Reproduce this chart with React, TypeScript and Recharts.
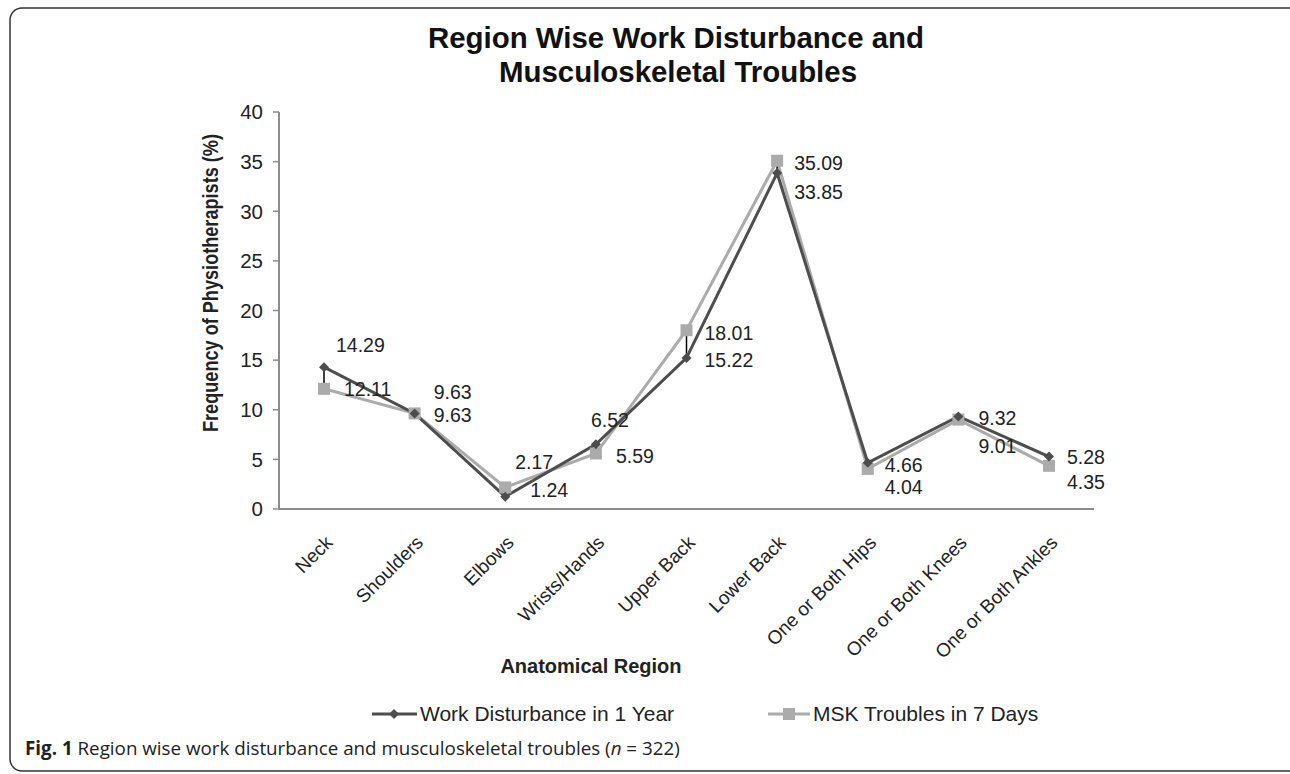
import React from 'react';
import { LineChart, Line, XAxis, YAxis, ErrorBar, LabelList } from 'recharts';

const regions = ['Neck', 'Shoulders', 'Elbows', 'Wrists/Hands', 'Upper Back', 'Lower Back', 'One or Both Hips', 'One or Both Knees', 'One or Both Ankles'];
const workDisturbance = [14.29, 9.63, 1.24, 6.52, 15.22, 33.85, 4.66, 9.32, 5.28];
const mskTroubles = [12.11, 9.63, 2.17, 5.59, 18.01, 35.09, 4.04, 9.01, 4.35];
const yTicks = [0, 5, 10, 15, 20, 25, 30, 35, 40];

// label placement offsets (dx, dy of the label's left/middle relative to the point)
const workLabelOffsets = [[12, -22], [19, -21], [25, -7], [-5, -24], [18, 2], [17, 19], [17, 2], [20, 2], [18, 1]];
const mskLabelOffsets = [[20, 0], [19, 2], [10, -25], [20, 3], [18, 3], [17, 2], [17, 18], [20, 27], [18, 16]];

const data = regions.map((r, i) => ({
  region: r,
  work: workDisturbance[i],
  msk: mskTroubles[i],
  hl: [Math.max(0, workDisturbance[i] - mskTroubles[i]), Math.max(0, mskTroubles[i] - workDisturbance[i])],
}));

const FONT = 'Arial, "Liberation Sans", sans-serif';
const WORK_COLOR = '#4d4d4d';
const MSK_COLOR = '#ababab';
const TEXT_COLOR = '#222';

const Diamond = (props: any) => {
  const { cx, cy } = props;
  if (cx == null || cy == null) return null;
  const s = 5;
  return <polygon points={`${cx},${cy - s} ${cx + s},${cy} ${cx},${cy + s} ${cx - s},${cy}`} fill={WORK_COLOR} />;
};

const Square = (props: any) => {
  const { cx, cy } = props;
  if (cx == null || cy == null) return null;
  const s = 6;
  return <rect x={cx - s} y={cy - s} width={2 * s} height={2 * s} fill={MSK_COLOR} />;
};

const makeLabel = (offsets: number[][]) => (props: any) => {
  const { x, y, value, index } = props;
  const [dx, dy] = offsets[index] || [15, 0];
  return (
    <text x={x + dx} y={y + dy} dy="0.35em" fontSize={19.5} fontFamily={FONT} fill={TEXT_COLOR} textAnchor="start">
      {Number(value).toFixed(2)}
    </text>
  );
};

const XTick = (props: any) => {
  const { x, y, payload } = props;
  return (
    <g transform={`translate(${x + 5},${y + 22}) rotate(-45)`}>
      <text x={0} y={0} dy="0.35em" textAnchor="end" fontSize={19} fontFamily={FONT} fill={TEXT_COLOR}>
        {payload.value}
      </text>
    </g>
  );
};

export default function App() {
  return (
    <div style={{ position: 'absolute', left: 0, top: 0, width: 1290, height: 774, background: '#fff', fontFamily: FONT, overflow: 'hidden' }}>
      <svg width={1290} height={774} style={{ position: 'absolute', left: 0, top: 0 }}>
        <rect x={10} y={8} width={1300} height={763} rx={12} ry={12} fill="none" stroke="#333" strokeWidth={1.5} />
        <text x={676} y={48} textAnchor="middle" fontSize={30} fontWeight="bold" fontFamily={FONT} fill="#111" textLength={496} lengthAdjust="spacingAndGlyphs">
          Region Wise Work Disturbance and
        </text>
        <text x={678} y={82} textAnchor="middle" fontSize={30} fontWeight="bold" fontFamily={FONT} fill="#111" textLength={358} lengthAdjust="spacingAndGlyphs">
          Musculoskeletal Troubles
        </text>
        <text transform="translate(218,283) rotate(-90)" textAnchor="middle" fontSize={22} fontWeight="bold" fontFamily={FONT} fill={TEXT_COLOR} textLength={298} lengthAdjust="spacingAndGlyphs">
          Frequency of Physiotherapists (%)
        </text>
        <text x={591} y={673} textAnchor="middle" fontSize={20} fontWeight="bold" fontFamily={FONT} fill={TEXT_COLOR}>
          Anatomical Region
        </text>
        {/* legend */}
        <line x1={372} y1={714} x2={417} y2={714} stroke={WORK_COLOR} strokeWidth={3} />
        <polygon points="394,709 399,714 394,719 389,714" fill={WORK_COLOR} />
        <text x={420} y={714} dy="0.35em" fontSize={21} fontFamily={FONT} fill={TEXT_COLOR}>Work Disturbance in 1 Year</text>
        <line x1={768} y1={714} x2={810} y2={714} stroke={MSK_COLOR} strokeWidth={3} />
        <rect x={783} y={708} width={12} height={12} fill={MSK_COLOR} />
        <text x={813} y={714} dy="0.35em" fontSize={21} fontFamily={FONT} fill={TEXT_COLOR}>MSK Troubles in 7 Days</text>
        {/* caption */}
        <text x={25} y={755} fontSize={18.8} fontFamily='"Open Sans", sans-serif' fill="#222">
          <tspan fontWeight="bold">Fig. 1</tspan>
          <tspan> Region wise work disturbance and musculoskeletal troubles (</tspan>
          <tspan fontStyle="italic">n</tspan>
          <tspan> = 322)</tspan>
        </text>
      </svg>
      <div style={{ position: 'absolute', left: 0, top: 0 }}>
        <LineChart width={1290} height={774} data={data} margin={{ top: 112, right: 196, bottom: 135, left: 209 }}>
          <XAxis
            dataKey="region"
            interval={0}
            tickLine={false}
            axisLine={{ stroke: '#8c8c8c', strokeWidth: 2 }}
            padding={{ left: 45, right: 45 }}
            height={130}
            tick={<XTick />}
          />
          <YAxis
            domain={[0, 40]}
            ticks={yTicks}
            width={70}
            tickSize={6}
            tickMargin={10}
            tickLine={{ stroke: '#8c8c8c', strokeWidth: 1.5 }}
            axisLine={{ stroke: '#8c8c8c', strokeWidth: 2 }}
            tick={{ fontSize: 20.5, fontFamily: FONT, fill: TEXT_COLOR }}
          />
          <Line
            dataKey="msk"
            stroke={MSK_COLOR}
            strokeWidth={3}
            dot={<Square />}
            activeDot={false}
            isAnimationActive={false}
          >
            <LabelList dataKey="msk" content={makeLabel(mskLabelOffsets)} />
          </Line>
          <Line
            dataKey="work"
            stroke={WORK_COLOR}
            strokeWidth={3}
            dot={<Diamond />}
            activeDot={false}
            isAnimationActive={false}
          >
            <ErrorBar dataKey="hl" width={0} stroke="#000" strokeWidth={1.5} direction="y" />
            <LabelList dataKey="work" content={makeLabel(workLabelOffsets)} />
          </Line>
        </LineChart>
      </div>
    </div>
  );
}
